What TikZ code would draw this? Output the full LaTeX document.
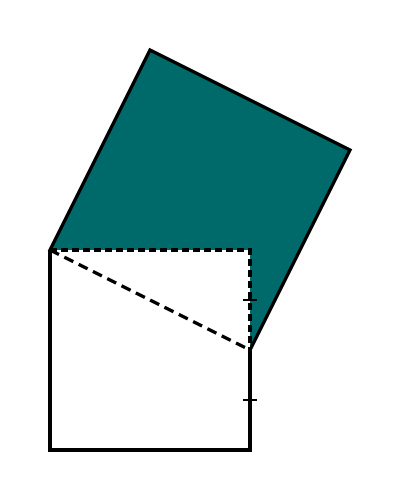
\documentclass[tikz,border=0pt]{standalone}
\definecolor{tealfill}{RGB}{0, 106, 106}
\usepackage{tikz}
\usetikzlibrary{calc}

\begin{document}
\begin{tikzpicture}[x=1pt, y=-1pt, line width=3.2pt,
    edge/.style={draw=black, line join=miter},
    dashedge/.style={draw=black, dash pattern=on 7pt off 4pt},
    tick/.style={draw=black, line width=2.4pt}]
  \useasboundingbox (0, 0) rectangle (400, 500);

  % corners
  \coordinate (A) at (50, 250);
  \coordinate (B) at (250, 250);
  \coordinate (C) at (250, 350);
  \coordinate (D) at (250, 450);
  \coordinate (E) at (50, 450);
  \coordinate (P) at (150, 50);
  \coordinate (Q) at (350, 150);

  % tilted square
  \filldraw[edge, fill=tealfill] (A) -- (P) -- (Q) -- (C) -- cycle;

  % lower square
  \fill[white] (A) -- (B) -- (D) -- (E) -- cycle;
  \draw[edge] (C) -- (D) -- (E) -- (A);
  \draw[dashedge] (A) -- (B) -- (C);
  \draw[draw=black, dash pattern=on 10pt off 6pt] (A) -- (C);

  % equal halves
  \coordinate (T1) at ($(B)!0.5!(C)$);
  \coordinate (T2) at ($(C)!0.5!(D)$);
  \draw[tick] ($(T1)+(-7, 0)$) -- ($(T1)+(7, 0)$);
  \draw[tick] ($(T2)+(-7, 0)$) -- ($(T2)+(7, 0)$);
\end{tikzpicture}
\end{document}
